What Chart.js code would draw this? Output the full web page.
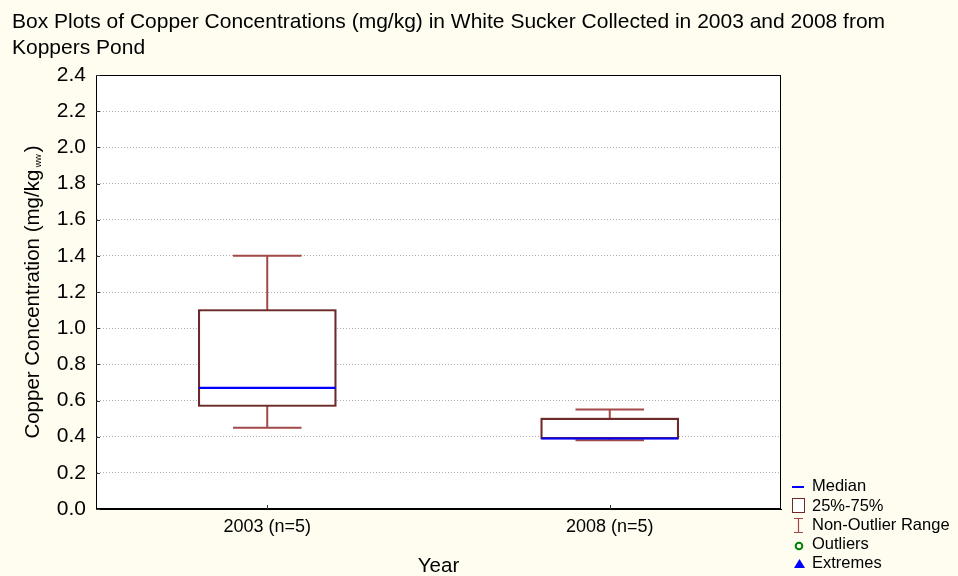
<!DOCTYPE html>
<html>
<head>
<meta charset="utf-8">
<script src="https://cdn.jsdelivr.net/npm/chart.js@4.4.1/dist/chart.umd.min.js"></script>
<style>
  html, body { margin: 0; padding: 0; background: #FFFCF0; }
  #wrap { width: 958px; height: 576px; position: relative; }
</style>
</head>
<body>
<div id="wrap"><canvas id="c" width="958" height="576"></canvas></div>
<script>
// ---- data ----
const categories = ['2003 (n=5)', '2008 (n=5)'];
const whiskerLow = [0.45, 0.38];
const q1 = [0.57, 0.39];
const median = [0.67, 0.39];
const q3 = [1.10, 0.50];
const whiskerHigh = [1.40, 0.55];
const yTicksMin = 0, yTicksMax = 2.4, yStep = 0.2;
const titleLines = ['Box Plots of Copper Concentrations (mg/kg) in White Sucker Collected in 2003 and 2008 from', 'Koppers Pond'];
const legendLabels = ['Median', '25%-75%', 'Non-Outlier Range', 'Outliers', 'Extremes'];

const FONT = '"Liberation Sans", Arial, sans-serif';
const BOX_COLOR = '#6E2A2A';
const WHISKER_COLOR = '#A34848';
const MEDIAN_COLOR = '#0000FF';

const boxData = categories.map((c, i) => [q1[i], q3[i]]);

const bgPlugin = {
  id: 'bg',
  beforeDraw(chart) {
    const {ctx, chartArea: a} = chart;
    ctx.save();
    ctx.fillStyle = '#FFFCF0';
    ctx.fillRect(0, 0, chart.width, chart.height);
    ctx.fillStyle = '#FFFFFF';
    ctx.fillRect(a.left, a.top, a.right - a.left, a.bottom - a.top);
    ctx.restore();
  }
};

const boxPlugin = {
  id: 'boxextras',
  afterDatasetsDraw(chart) {
    const {ctx, chartArea: a} = chart;
    const xs = chart.scales.x, ys = chart.scales.y;
    const meta = chart.getDatasetMeta(0);
    ctx.save();
    categories.forEach((c, i) => {
      const bar = meta.data[i];
      const cx = xs.getPixelForValue(i);
      const half = bar.width / 2;
      const capHalf = half / 2;
      const yLo = ys.getPixelForValue(whiskerLow[i]);
      const yQ1 = ys.getPixelForValue(q1[i]);
      const yQ3 = ys.getPixelForValue(q3[i]);
      const yHi = ys.getPixelForValue(whiskerHigh[i]);
      const yMed = ys.getPixelForValue(median[i]);
      ctx.strokeStyle = WHISKER_COLOR;
      ctx.lineWidth = 2;
      ctx.beginPath();
      ctx.moveTo(cx, yQ3); ctx.lineTo(cx, yHi);
      ctx.moveTo(cx - capHalf, yHi); ctx.lineTo(cx + capHalf, yHi);
      ctx.moveTo(cx, yQ1); ctx.lineTo(cx, yLo);
      ctx.moveTo(cx - capHalf, yLo); ctx.lineTo(cx + capHalf, yLo);
      ctx.stroke();
      ctx.strokeStyle = BOX_COLOR;
      ctx.lineWidth = 1.5;
      ctx.strokeRect(cx - half, yQ3, half * 2, yQ1 - yQ3);
      ctx.strokeStyle = MEDIAN_COLOR;
      ctx.lineWidth = 2.2;
      ctx.beginPath();
      ctx.moveTo(cx - half, yMed); ctx.lineTo(cx + half, yMed);
      ctx.stroke();
    });
    ctx.strokeStyle = '#000';
    ctx.lineWidth = 1;
    ctx.strokeRect(Math.round(a.left) + 0.5, Math.round(a.top) + 0.5, Math.round(a.right - a.left) - 1, Math.round(a.bottom - a.top) - 1);
    ctx.strokeStyle = '#333';
    ctx.beginPath();
    ys.ticks.forEach(t => {
      const y = Math.round(ys.getPixelForValue(t.value)) + 0.5;
      ctx.moveTo(a.left, y); ctx.lineTo(a.left + 4, y);
    });
    categories.forEach((c, i) => {
      const x = Math.round(xs.getPixelForValue(i)) + 0.5;
      ctx.moveTo(x, a.bottom); ctx.lineTo(x, a.bottom - 4);
    });
    ctx.stroke();
    ctx.restore();
  },
  afterDraw(chart) {
    const {ctx, chartArea: a} = chart;
    ctx.save();
    ctx.fillStyle = '#000';
    ctx.font = '21px ' + FONT;
    ctx.textBaseline = 'middle';
    ctx.textAlign = 'left';
    ctx.fillText(titleLines[0], 12, 22);
    ctx.fillText(titleLines[1], 12, 48);
    ctx.restore();

    ctx.save();
    const cy = (a.top + a.bottom) / 2;
    ctx.translate(33, cy);
    ctx.rotate(-Math.PI / 2);
    ctx.fillStyle = '#000';
    ctx.textBaseline = 'middle';
    const main = 'Copper Concentration (mg/kg';
    const sub = 'ww';
    const close = ')';
    ctx.font = '20.5px ' + FONT;
    const w1 = ctx.measureText(main).width;
    const w3 = ctx.measureText(close).width;
    ctx.font = '9px ' + FONT;
    const w2 = ctx.measureText(' ' + sub).width;
    const total = w1 + w2 + w3 + 2;
    let x = -total / 2;
    ctx.font = '20.5px ' + FONT;
    ctx.textAlign = 'left';
    ctx.fillText(main, x, 0);
    x += w1;
    ctx.font = '9px ' + FONT;
    ctx.fillText(' ' + sub, x, 6);
    x += w2 + 2;
    ctx.font = '20.5px ' + FONT;
    ctx.fillText(close, x, 0);
    ctx.restore();

    ctx.save();
    const tx = 812;
    const ly = [486, 506, 525, 544, 563];
    ctx.font = '16.5px ' + FONT;
    ctx.fillStyle = '#000';
    ctx.textBaseline = 'middle';
    ctx.textAlign = 'left';
    legendLabels.forEach((l, i) => ctx.fillText(l, tx, ly[i]));
    ctx.strokeStyle = MEDIAN_COLOR; ctx.lineWidth = 2;
    ctx.beginPath(); ctx.moveTo(792, ly[0] + 1); ctx.lineTo(804, ly[0] + 1); ctx.stroke();
    ctx.fillStyle = '#fff';
    ctx.fillRect(792.5, 498.5, 12, 14);
    ctx.strokeStyle = BOX_COLOR; ctx.lineWidth = 1;
    ctx.strokeRect(792.5, 498.5, 12, 14);
    ctx.strokeStyle = WHISKER_COLOR; ctx.lineWidth = 1.2;
    ctx.beginPath();
    ctx.moveTo(798.5, 518); ctx.lineTo(798.5, 532);
    ctx.moveTo(794, 518.5); ctx.lineTo(803, 518.5);
    ctx.moveTo(794, 532.5); ctx.lineTo(803, 532.5);
    ctx.stroke();
    ctx.strokeStyle = '#008000'; ctx.lineWidth = 2;
    ctx.beginPath(); ctx.arc(799, 546, 3.3, 0, Math.PI * 2); ctx.stroke();
    ctx.fillStyle = '#0000FF';
    ctx.beginPath(); ctx.moveTo(799.5, 559); ctx.lineTo(805, 568); ctx.lineTo(794, 568); ctx.closePath(); ctx.fill();
    ctx.restore();
  }
};

new Chart(document.getElementById('c'), {
  type: 'bar',
  data: {
    labels: categories,
    datasets: [{
      data: boxData,
      backgroundColor: '#FFFFFF',
      borderColor: BOX_COLOR,
      borderWidth: 1.5,
      borderSkipped: false,
      barPercentage: 0.8,
      categoryPercentage: 0.5
    }]
  },
  options: {
    responsive: false,
    animation: false,
    devicePixelRatio: 1,
    layout: { padding: { left: 12, right: 177, top: 75, bottom: 0 } },
    plugins: {
      legend: { display: false },
      tooltip: { enabled: false },
      title: { display: false }
    },
    scales: {
      x: {
        type: 'category',
        offset: true,
        grid: { display: false, drawTicks: false },
        border: { display: true, color: '#000' },
        ticks: { color: '#000', font: { family: FONT, size: 18 }, padding: 7 },
        title: { display: true, text: 'Year', color: '#000', font: { family: FONT, size: 20.5 }, padding: { top: 11, bottom: -3 } },
        afterFit(s) { s.height = 67; }
      },
      y: {
        min: yTicksMin,
        max: yTicksMax,
        grid: { display: true, color: '#B0B0B0', lineWidth: 1, drawTicks: false },
        border: { display: true, color: '#000', dash: [1, 2] },
        ticks: { stepSize: yStep, color: '#000', font: { family: FONT, size: 21 }, padding: 10, callback: v => v.toFixed(1) },
        afterFit(s) { s.width = 84; }
      }
    }
  },
  plugins: [bgPlugin, boxPlugin]
});
</script>
</body>
</html>
